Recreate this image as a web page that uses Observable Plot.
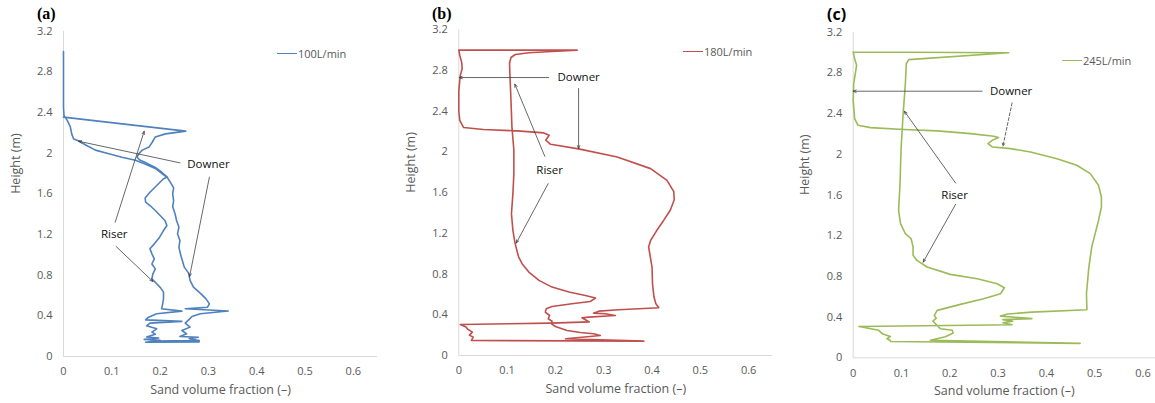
<!DOCTYPE html>
<html><head><meta charset="utf-8">
<script src="https://cdn.jsdelivr.net/npm/d3@7"></script>
<script src="https://cdn.jsdelivr.net/npm/@observablehq/plot@0.6"></script>
<style>
body{margin:0;background:#fff;overflow:hidden;font-family:"Open Sans",sans-serif}
#wrap{position:relative;width:1155px;height:403px;overflow:hidden;background:#fff}
.panel{position:absolute;top:0}
.plabel{position:absolute;font-weight:bold;font-size:16px;color:#000;line-height:1}
.legend{position:absolute;font-size:11px;color:#595959;display:flex;align-items:center;line-height:1;white-space:nowrap}
.legend .sw{display:inline-block;width:20px;height:0;border-top:1.5px solid;margin-right:1px}
</style></head><body><div id="wrap"></div><script>
// ---- data ----
const xTicks = [0, 0.1, 0.2, 0.3, 0.4, 0.5, 0.6];
const yTicks = [0, 0.4, 0.8, 1.2, 1.6, 2, 2.4, 2.8, 3.2];
const xTitle = "Sand volume fraction (–)";
const yTitle = "Height (m)";
const panelNames = ["(a)", "(b)", "(c)"];
const seriesNames = ["100L/min", "180L/min", "245L/min"];

// [sand volume fraction, height (m)]
const profileA = [
 [0,3.0],[0,2.7],[0,2.45],[0.001,2.37],[0.008,2.32],[0.014,2.26],[0.017,2.19],[0.021,2.14],[0.032,2.12],[0.046,2.08],
 [0.066,2.03],[0.094,1.995],[0.121,1.96],[0.149,1.93],[0.17,1.89],[0.19,1.85],[0.204,1.80],[0.215,1.76],
 [0.221,1.715],[0.228,1.659],[0.226,1.6],[0.228,1.534],[0.226,1.475],[0.231,1.403],[0.234,1.338],[0.239,1.272],
 [0.236,1.207],[0.241,1.141],[0.239,1.075],[0.242,1.01],[0.246,0.944],[0.25,0.879],[0.259,0.82],[0.262,0.748],
 [0.269,0.682],[0.283,0.623],[0.295,0.567],[0.302,0.518],[0.298,0.485],[0.252,0.47],
 [0.341,0.448],[0.283,0.42],[0.266,0.393],[0.259,0.36],[0.252,0.328],[0.262,0.289],[0.245,0.256],[0.255,0.223],
 [0.241,0.197],[0.279,0.19],[0.26,0.175],[0.281,0.158],[0.18,0.152],[0.281,0.144],[0.17,0.14],[0.2,0.16],
 [0.167,0.168],[0.197,0.182],[0.172,0.192],[0.19,0.22],[0.183,0.24],[0.193,0.272],[0.172,0.302],[0.179,0.328],
 [0.245,0.346],[0.17,0.36],[0.176,0.387],[0.193,0.42],[0.245,0.446],[0.203,0.469],
 [0.205,0.511],[0.207,0.567],[0.207,0.633],[0.201,0.675],[0.193,0.715],[0.183,0.764],[0.185,0.813],[0.19,0.862],
 [0.183,0.91],[0.188,0.96],[0.183,1.01],[0.179,1.059],[0.188,1.108],[0.199,1.174],[0.207,1.239],[0.214,1.289],
 [0.21,1.338],[0.2,1.387],[0.19,1.436],[0.179,1.485],[0.17,1.518],[0.169,1.56],[0.179,1.616],[0.193,1.682],
 [0.207,1.748],[0.215,1.765],
 [0.204,1.81],[0.19,1.86],[0.173,1.90],[0.159,1.93],[0.152,1.96],[0.156,1.995],[0.163,2.03],[0.177,2.06],
 [0.184,2.11],[0.19,2.16],[0.211,2.19],[0.253,2.217],[0.126,2.286],[0,2.355]
];
const profileB = [
 [0,3.0],[0.245,3.0],[0.193,2.987],[0.145,2.974],[0.117,2.957],[0.108,2.928],[0.105,2.869],[0.106,2.738],
 [0.108,2.508],[0.110,2.246],[0.114,2.016],[0.114,1.787],[0.112,1.59],[0.109,1.393],[0.112,1.23],[0.116,1.115],
 [0.121,1.016],[0.124,0.967],[0.131,0.902],[0.145,0.82],[0.166,0.738],[0.193,0.672],[0.228,0.623],[0.262,0.59],
 [0.283,0.564],[0.272,0.531],[0.234,0.508],[0.193,0.482],[0.181,0.459],[0.179,0.426],[0.188,0.393],[0.185,0.361],
 [0.193,0.338],[0.192,0.311],[0.2,0.285],[0.224,0.246],[0.252,0.226],[0.279,0.213],[0.293,0.197],[0.255,0.18],
 [0.221,0.164],[0.383,0.141],[0.026,0.148],[0.03,0.18],[0.022,0.2],[0.028,0.23],[0.018,0.26],[0.015,0.28],
 [0.003,0.305],[0.19,0.318],[0.27,0.33],[0.262,0.351],[0.255,0.37],[0.269,0.377],[0.324,0.393],[0.303,0.41],
 [0.279,0.416],[0.29,0.436],[0.331,0.449],[0.414,0.469],[0.408,0.508],[0.404,0.574],[0.401,0.705],[0.4,0.869],
 [0.396,0.98],[0.393,1.066],[0.397,1.13],[0.41,1.23],[0.424,1.327],[0.438,1.43],[0.446,1.53],[0.445,1.61],
 [0.431,1.72],[0.397,1.836],[0.328,1.95],[0.248,2.03],[0.19,2.075],[0.18,2.115],[0.187,2.164],[0.176,2.187],
 [0.121,2.207],[0.051,2.22],[0.01,2.24],[0.002,2.31],[0,2.4],[0,2.6],[0.003,2.75],[0.007,2.82],[0.006,2.88],
 [0.002,2.95],[0,3.0]
];
const profileC = [
 [0,3.006],[0.322,2.998],[0.115,2.93],[0.11,2.89],[0.108,2.695],[0.103,2.367],[0.099,2.04],[0.097,1.71],
 [0.094,1.45],[0.098,1.318],[0.108,1.22],[0.12,1.17],[0.124,1.089],[0.124,1.007],[0.132,0.957],[0.153,0.892],
 [0.201,0.82],[0.257,0.777],[0.298,0.728],[0.313,0.689],[0.305,0.63],[0.27,0.58],[0.222,0.525],[0.174,0.466],
 [0.168,0.416],[0.172,0.39],[0.165,0.36],[0.17,0.337],[0.175,0.31],[0.181,0.285],[0.205,0.27],[0.207,0.243],
 [0.191,0.206],[0.16,0.172],[0.47,0.142],[0.077,0.16],[0.077,0.17],[0.07,0.187],[0.077,0.21],[0.06,0.237],
 [0.053,0.27],[0.012,0.308],[0.329,0.325],[0.31,0.345],[0.33,0.36],[0.31,0.375],[0.37,0.385],[0.305,0.41],
 [0.32,0.43],[0.37,0.449],[0.484,0.472],[0.483,0.63],[0.488,0.892],[0.494,1.089],[0.501,1.22],[0.508,1.35],
 [0.514,1.482],[0.514,1.58],[0.508,1.695],[0.491,1.81],[0.463,1.892],[0.422,1.957],[0.367,2.023],[0.326,2.056],
 [0.288,2.072],[0.279,2.105],[0.288,2.138],[0.301,2.164],[0.291,2.177],[0.243,2.203],[0.174,2.23],[0.105,2.243],
 [0.036,2.262],[0.01,2.285],[0.003,2.35],[0,2.53],[0.001,2.695],[0.005,2.81],[0.007,2.875],[0.003,2.94],[0,3.006]
];

// annotations
const labelsA = [{x:0.30,y:1.895,t:"Downer"},{x:0.105,y:1.2,t:"Riser"}];
const arrowsA = [
 {x1:0.241,y1:1.905,x2:0.031,y2:2.118},{x1:0.302,y1:1.764,x2:0.261,y2:0.787},
 {x1:0.107,y1:1.321,x2:0.167,y2:2.216},{x1:0.109,y1:1.082,x2:0.185,y2:0.738}
];
const labelsB = [{x:0.248,y:2.731,t:"Downer"},{x:0.188,y:1.82,t:"Riser"}];
const arrowsB = [
 {x1:0.186,y1:2.731,x2:0.001,y2:2.731},{x1:0.248,y1:2.623,x2:0.248,y2:2.033},
 {x1:0.178,y1:1.957,x2:0.116,y2:2.666},{x1:0.185,y1:1.689,x2:0.119,y2:1.105}
];
const labelsC = [{x:0.327,y:2.62,t:"Downer"},{x:0.21,y:1.597,t:"Riser"}];
const arrowsC = [
 {x1:0.267,y1:2.62,x2:0.0,y2:2.62},{x1:0.329,y1:2.505,x2:0.31,y2:2.079,dashed:true},
 {x1:0.212,y1:1.718,x2:0.106,y2:2.423},{x1:0.212,y1:1.508,x2:0.145,y2:0.941}
];

// ---- layout / style ----
const panels = [
 {left:0, width:385, ml:63, mr:8, mt:30.7, mb:47, xmax:0.65, color:"#4f81bd", prof:profileA, labels:labelsA, arrows:arrowsA,
  pl:{left:37,top:6,font:'"Liberation Serif", "Times New Roman", serif'}, lg:{left:277,top:48}},
 {left:385, width:390, ml:73.3, mr:2.7, mt:29.3, mb:48, xmax:0.65, color:"#c0504d", prof:profileB, labels:labelsB, arrows:arrowsB,
  pl:{left:432,top:6,font:'"Liberation Serif", "Times New Roman", serif'}, lg:{left:683,top:46}},
 {left:770, width:385, ml:82.7, mr:0, mt:31.7, mb:45.7, xmax:0.626, color:"#9bbb59", prof:profileC, labels:labelsC, arrows:arrowsC,
  pl:{left:827,top:6,font:'"Open Sans", sans-serif'}, lg:{left:1062,top:55}}
];

const wrap = document.getElementById("wrap");
panels.forEach((p, i) => {
  const chart = Plot.plot({
    width: p.width, height: 403,
    marginLeft: p.ml, marginRight: p.mr, marginTop: p.mt, marginBottom: p.mb,
    x: {domain: [0, p.xmax]},
    y: {domain: [0, 3.2]},
    style: {fontFamily: '"Open Sans", sans-serif', fontSize: "11px", color: "#595959", background: "transparent", overflow: "visible"},
    marks: [
      Plot.ruleY([0], {stroke: "#d9d9d9", strokeWidth: 1}),
      Plot.ruleX([0], {stroke: "#d9d9d9", strokeWidth: 1}),
      Plot.axisX({ticks: xTicks, tickSize: 0, tickPadding: 11, tickFormat: d => String(d), label: null, fill: "#595959"}),
      Plot.axisY({ticks: yTicks, tickSize: 0, tickPadding: 11, tickFormat: d => String(d), label: null, fill: "#595959"}),
      Plot.line(p.prof, {x: d => d[0], y: d => d[1], stroke: p.color, strokeWidth: 1.6, strokeLinejoin: "round"}),
      Plot.arrow(p.arrows.filter(a => !a.dashed), {x1: "x1", y1: "y1", x2: "x2", y2: "y2", stroke: "#404040", strokeWidth: 0.8, headLength: 6, headAngle: 45}),
      Plot.arrow(p.arrows.filter(a => a.dashed), {x1: "x1", y1: "y1", x2: "x2", y2: "y2", stroke: "#404040", strokeWidth: 0.8, headLength: 6, headAngle: 45, strokeDasharray: "3,2"}),
      Plot.text(p.labels, {x: "x", y: "y", text: "t", fill: "#111", fontSize: 11.5}),
      Plot.text([xTitle], {text: d => d, frameAnchor: "bottom", dy: 37.5, fontSize: 12.5, fill: "#595959"}),
      Plot.text([yTitle], {text: d => d, frameAnchor: "left", dx: -48, rotate: -90, fontSize: 12.5, fill: "#595959"})
    ]
  });
  const holder = document.createElement("div");
  holder.className = "panel";
  holder.style.left = p.left + "px";
  holder.appendChild(chart);
  wrap.appendChild(holder);

  const lab = document.createElement("div");
  lab.className = "plabel";
  lab.style.left = p.pl.left + "px"; lab.style.top = p.pl.top + "px"; lab.style.fontFamily = p.pl.font;
  lab.textContent = panelNames[i];
  wrap.appendChild(lab);

  const lg = document.createElement("div");
  lg.className = "legend";
  lg.style.left = p.lg.left + "px"; lg.style.top = p.lg.top + "px";
  const sw = document.createElement("span"); sw.className = "sw"; sw.style.borderTopColor = p.color;
  lg.appendChild(sw);
  lg.appendChild(document.createTextNode(seriesNames[i]));
  wrap.appendChild(lg);
});
</script></body></html>
